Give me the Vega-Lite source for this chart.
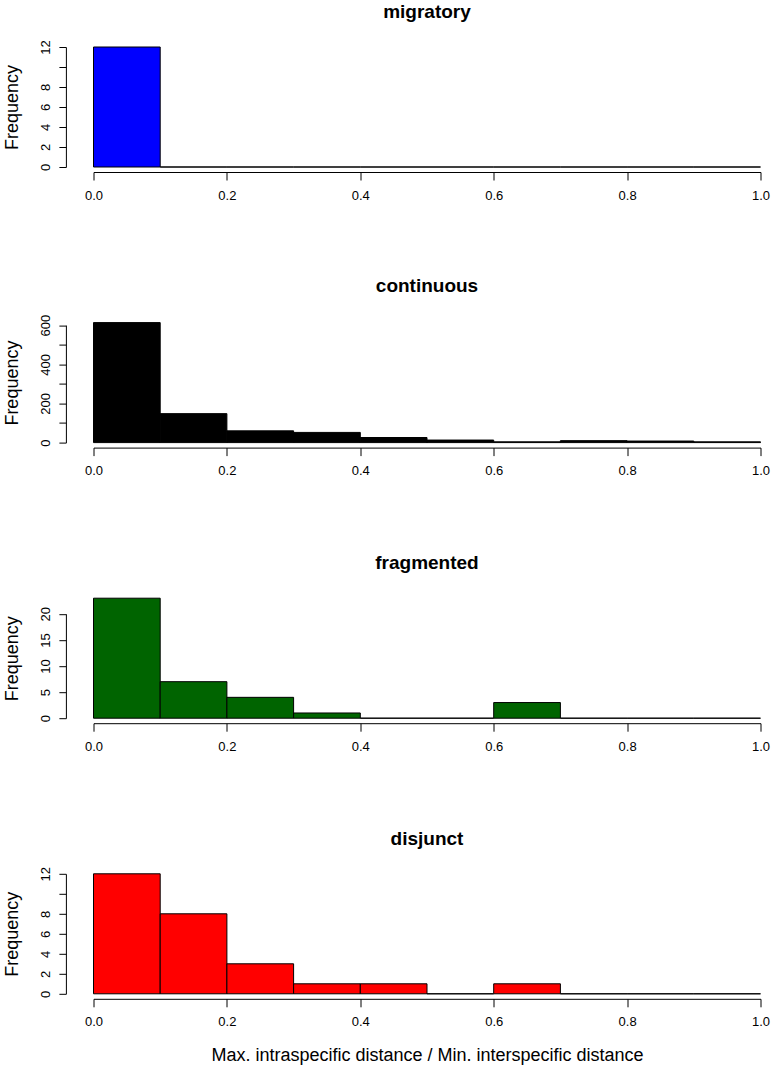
{
  "$schema": "https://vega.github.io/schema/vega-lite/v6.json",
  "padding": {"left": 3.5, "top": 2, "right": 0, "bottom": 0},
  "background": "white",
  "config": {
    "font": "Liberation Sans",
    "view": {"stroke": null},
    "axis": {
      "grid": false,
      "domainColor": "black",
      "domainWidth": 1,
      "tickColor": "black",
      "tickWidth": 1,
      "labelColor": "black",
      "labelFont": "Liberation Sans",
      "labelFontSize": 13,
      "labelFlush": false,
      "titleColor": "black",
      "titleFont": "Liberation Sans",
      "titleFontSize": 18,
      "titleFontWeight": "normal"
    },
    "title": {
      "font": "Liberation Sans",
      "fontSize": 19,
      "fontWeight": "bold",
      "color": "black",
      "anchor": "middle",
      "frame": "group",
      "offset": 18
    }
  },
  "datasets": {
    "hist": [
      {"panel": "migratory", "bin_start": 0.0, "bin_end": 0.1, "count": 12},
      {"panel": "migratory", "bin_start": 0.1, "bin_end": 0.2, "count": 0},
      {"panel": "migratory", "bin_start": 0.2, "bin_end": 0.3, "count": 0},
      {"panel": "migratory", "bin_start": 0.3, "bin_end": 0.4, "count": 0},
      {"panel": "migratory", "bin_start": 0.4, "bin_end": 0.5, "count": 0},
      {"panel": "migratory", "bin_start": 0.5, "bin_end": 0.6, "count": 0},
      {"panel": "migratory", "bin_start": 0.6, "bin_end": 0.7, "count": 0},
      {"panel": "migratory", "bin_start": 0.7, "bin_end": 0.8, "count": 0},
      {"panel": "migratory", "bin_start": 0.8, "bin_end": 0.9, "count": 0},
      {"panel": "migratory", "bin_start": 0.9, "bin_end": 1.0, "count": 0},
      {"panel": "continuous", "bin_start": 0.0, "bin_end": 0.1, "count": 613},
      {"panel": "continuous", "bin_start": 0.1, "bin_end": 0.2, "count": 148},
      {"panel": "continuous", "bin_start": 0.2, "bin_end": 0.3, "count": 60},
      {"panel": "continuous", "bin_start": 0.3, "bin_end": 0.4, "count": 52},
      {"panel": "continuous", "bin_start": 0.4, "bin_end": 0.5, "count": 26},
      {"panel": "continuous", "bin_start": 0.5, "bin_end": 0.6, "count": 13},
      {"panel": "continuous", "bin_start": 0.6, "bin_end": 0.7, "count": 4},
      {"panel": "continuous", "bin_start": 0.7, "bin_end": 0.8, "count": 10},
      {"panel": "continuous", "bin_start": 0.8, "bin_end": 0.9, "count": 8},
      {"panel": "continuous", "bin_start": 0.9, "bin_end": 1.0, "count": 4},
      {"panel": "fragmented", "bin_start": 0.0, "bin_end": 0.1, "count": 23},
      {"panel": "fragmented", "bin_start": 0.1, "bin_end": 0.2, "count": 7},
      {"panel": "fragmented", "bin_start": 0.2, "bin_end": 0.3, "count": 4},
      {"panel": "fragmented", "bin_start": 0.3, "bin_end": 0.4, "count": 1},
      {"panel": "fragmented", "bin_start": 0.4, "bin_end": 0.5, "count": 0},
      {"panel": "fragmented", "bin_start": 0.5, "bin_end": 0.6, "count": 0},
      {"panel": "fragmented", "bin_start": 0.6, "bin_end": 0.7, "count": 3},
      {"panel": "fragmented", "bin_start": 0.7, "bin_end": 0.8, "count": 0},
      {"panel": "fragmented", "bin_start": 0.8, "bin_end": 0.9, "count": 0},
      {"panel": "fragmented", "bin_start": 0.9, "bin_end": 1.0, "count": 0},
      {"panel": "disjunct", "bin_start": 0.0, "bin_end": 0.1, "count": 12},
      {"panel": "disjunct", "bin_start": 0.1, "bin_end": 0.2, "count": 8},
      {"panel": "disjunct", "bin_start": 0.2, "bin_end": 0.3, "count": 3},
      {"panel": "disjunct", "bin_start": 0.3, "bin_end": 0.4, "count": 1},
      {"panel": "disjunct", "bin_start": 0.4, "bin_end": 0.5, "count": 1},
      {"panel": "disjunct", "bin_start": 0.5, "bin_end": 0.6, "count": 0},
      {"panel": "disjunct", "bin_start": 0.6, "bin_end": 0.7, "count": 1},
      {"panel": "disjunct", "bin_start": 0.7, "bin_end": 0.8, "count": 0},
      {"panel": "disjunct", "bin_start": 0.8, "bin_end": 0.9, "count": 0},
      {"panel": "disjunct", "bin_start": 0.9, "bin_end": 1.0, "count": 0}
    ]
  },
  "spacing": 155.6,
  "bounds": "flush",
  "vconcat": [
    {
      "title": {"text": "migratory"},
      "width": 667,
      "height": 120,
      "data": {"name": "hist"},
      "transform": [{"filter": "datum.panel === 'migratory'"}],
      "mark": {"type": "bar", "color": "#0000FF", "stroke": "black", "strokeWidth": 1},
      "encoding": {
        "x": {"field": "bin_start", "type": "quantitative", "scale": {"domain": [0, 1], "nice": false, "zero": false},
              "axis": {"values": [0, 0.2, 0.4, 0.6, 0.8, 1.0], "format": ".1f", "title": null, "offset": 5, "tickSize": 8, "labelPadding": 9, "labelAngle": 0}},
        "x2": {"field": "bin_end"},
        "y": {"field": "count", "type": "quantitative", "scale": {"domain": [0, 12], "nice": false},
              "axis": {"values": [0, 2, 4, 6, 8, 10, 12], "labelExpr": "datum.value == 10 ? '' : datum.label", "title": "Frequency", "offset": 27.6, "tickSize": 7, "labelAngle": -90, "labelAlign": "center", "labelBaseline": "bottom", "labelPadding": 6, "titlePadding": 18}},
        "y2": {"datum": 0}
      }
    },
    {
      "title": {"text": "continuous"},
      "width": 667,
      "height": 120,
      "data": {"name": "hist"},
      "transform": [{"filter": "datum.panel === 'continuous'"}],
      "mark": {"type": "bar", "color": "#000000", "stroke": "black", "strokeWidth": 1},
      "encoding": {
        "x": {"field": "bin_start", "type": "quantitative", "scale": {"domain": [0, 1], "nice": false, "zero": false},
              "axis": {"values": [0, 0.2, 0.4, 0.6, 0.8, 1.0], "format": ".1f", "title": null, "offset": 5, "tickSize": 8, "labelPadding": 9, "labelAngle": 0}},
        "x2": {"field": "bin_end"},
        "y": {"field": "count", "type": "quantitative", "scale": {"domain": [0, 613], "nice": false},
              "axis": {"values": [0, 100, 200, 300, 400, 500, 600], "labelExpr": "datum.value % 200 == 0 ? datum.label : ''", "title": "Frequency", "offset": 27.6, "tickSize": 7, "labelAngle": -90, "labelAlign": "center", "labelBaseline": "bottom", "labelPadding": 6, "titlePadding": 18, "domainDash": [117.5, 2000]}},
        "y2": {"datum": 0}
      }
    },
    {
      "title": {"text": "fragmented", "offset": 25},
      "width": 667,
      "height": 120,
      "data": {"name": "hist"},
      "transform": [{"filter": "datum.panel === 'fragmented'"}],
      "mark": {"type": "bar", "color": "#006400", "stroke": "black", "strokeWidth": 1},
      "encoding": {
        "x": {"field": "bin_start", "type": "quantitative", "scale": {"domain": [0, 1], "nice": false, "zero": false},
              "axis": {"values": [0, 0.2, 0.4, 0.6, 0.8, 1.0], "format": ".1f", "title": null, "offset": 5, "tickSize": 8, "labelPadding": 9, "labelAngle": 0}},
        "x2": {"field": "bin_end"},
        "y": {"field": "count", "type": "quantitative", "scale": {"domain": [0, 23], "nice": false},
              "axis": {"values": [0, 5, 10, 15, 20], "title": "Frequency", "offset": 27.6, "tickSize": 7, "labelAngle": -90, "labelAlign": "center", "labelBaseline": "bottom", "labelPadding": 6, "titlePadding": 18, "domainDash": [104.4, 2000]}},
        "y2": {"datum": 0}
      }
    },
    {
      "title": {"text": "disjunct"},
      "width": 667,
      "height": 120,
      "data": {"name": "hist"},
      "transform": [{"filter": "datum.panel === 'disjunct'"}],
      "mark": {"type": "bar", "color": "#FF0000", "stroke": "black", "strokeWidth": 1},
      "encoding": {
        "x": {"field": "bin_start", "type": "quantitative", "scale": {"domain": [0, 1], "nice": false, "zero": false},
              "axis": {"values": [0, 0.2, 0.4, 0.6, 0.8, 1.0], "format": ".1f", "title": "Max. intraspecific distance / Min. interspecific distance", "offset": 5, "tickSize": 8, "labelPadding": 9, "labelAngle": 0, "titlePadding": 18}},
        "x2": {"field": "bin_end"},
        "y": {"field": "count", "type": "quantitative", "scale": {"domain": [0, 12], "nice": false},
              "axis": {"values": [0, 2, 4, 6, 8, 10, 12], "labelExpr": "datum.value == 10 ? '' : datum.label", "title": "Frequency", "offset": 27.6, "tickSize": 7, "labelAngle": -90, "labelAlign": "center", "labelBaseline": "bottom", "labelPadding": 6, "titlePadding": 18}},
        "y2": {"datum": 0}
      }
    }
  ]
}
